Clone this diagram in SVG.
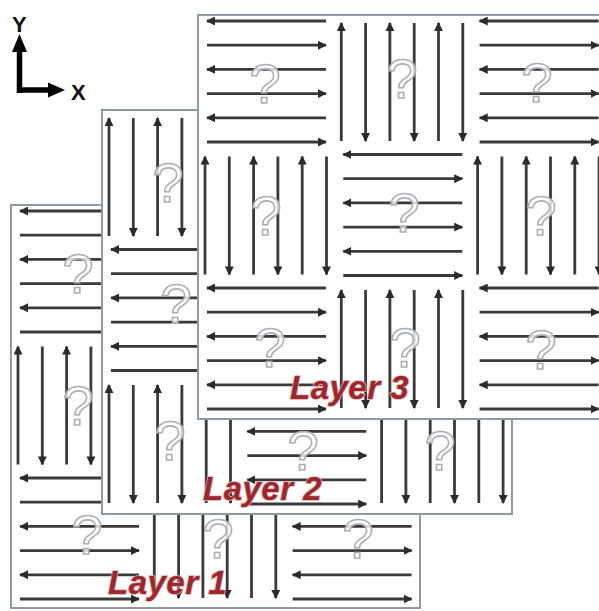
<svg xmlns="http://www.w3.org/2000/svg" xmlns:xlink="http://www.w3.org/1999/xlink" width="599" height="611" viewBox="0 0 599 611">
<style>
.frame{fill:#fff;stroke:#8d9aa8;stroke-width:2}
.ar{stroke:#3a3a3a;stroke-width:2.8;fill:none;marker-end:url(#head)}
.q{font-family:"Liberation Sans",Arial,sans-serif;font-size:56px;fill:#fff;fill-opacity:0.8;stroke:#a9afb5;stroke-width:1.6;text-anchor:middle}
.lbl{font-family:"Liberation Sans",Arial,sans-serif;font-style:italic;font-weight:bold;font-size:33px;letter-spacing:0.5px;fill:#a0262c;stroke:#e6b0b0;stroke-width:1.6;paint-order:stroke}
.axis{stroke:#000;stroke-width:5.5;fill:none}
.axl{font-family:"Liberation Sans",Arial,sans-serif;font-weight:bold;font-size:22px;fill:#111}
</style>
<defs>
<marker id="head" viewBox="0 0 10 10" markerWidth="9" markerHeight="9" refX="9" refY="5" orient="auto" markerUnits="userSpaceOnUse">
<path d="M0,0L10,5L0,10z" fill="#2b2b2b"/>
</marker>
<!-- cell with six horizontal arrows, alternating left / right -->
<g id="hcell">
<path class="ar" d="M128,6H9"/>
<path class="ar" d="M9,30.2H128"/>
<path class="ar" d="M128,54.4H9"/>
<path class="ar" d="M9,78.6H128"/>
<path class="ar" d="M128,102.8H9"/>
<path class="ar" d="M9,127H128"/>
</g>
<!-- cell with six vertical arrows, alternating up / down -->
<g id="vcell">
<path class="ar" d="M7,126V8"/>
<path class="ar" d="M31.3,8V126"/>
<path class="ar" d="M55.6,126V8"/>
<path class="ar" d="M79.9,8V126"/>
<path class="ar" d="M104.2,126V8"/>
<path class="ar" d="M128.5,8V126"/>
</g>
</defs>
<rect width="599" height="611" fill="#fff"/>

<!-- coordinate axes -->
<g id="axes">
<path class="axis" d="M19.5,93V52M16.7,90H50"/>
<path d="M19.5,34L12,52L27,52z" fill="#000"/>
<path d="M65,90L48,82.5L48,97.5z" fill="#000"/>
<text class="axl" x="12" y="32">Y</text>
<text class="axl" x="71" y="100">X</text>
</g>

<!-- bottom layer -->
<g id="layer1" transform="translate(11,205)">
<rect class="frame" width="409" height="403"/>
<use href="#hcell"/>
<use href="#vcell" x="136.3"/>
<use href="#hcell" x="272.6"/>
<use href="#vcell" y="133.5"/>
<use href="#hcell" x="136.3" y="133.5"/>
<use href="#vcell" x="272.6" y="133.5"/>
<use href="#hcell" y="267"/>
<use href="#vcell" x="136.3" y="267"/>
<use href="#hcell" x="272.6" y="267"/>
<text class="q" x="67" y="88">?</text>
<text class="q" x="67" y="220">?</text>
<text class="q" x="76" y="349">?</text>
<text class="q" x="207" y="353">?</text>
<text class="q" x="347" y="353">?</text>
<text class="lbl" x="97" y="389">Layer 1</text>
</g>

<!-- middle layer -->
<g id="layer2" transform="translate(102,110)">
<rect class="frame" width="410" height="404"/>
<use href="#vcell"/>
<use href="#hcell" x="136.3"/>
<use href="#vcell" x="272.6"/>
<use href="#hcell" y="133.5"/>
<use href="#vcell" x="136.3" y="133.5"/>
<use href="#hcell" x="272.6" y="133.5"/>
<use href="#vcell" y="267"/>
<use href="#hcell" x="136.3" y="267"/>
<use href="#vcell" x="272.6" y="267"/>
<text class="q" x="66" y="92">?</text>
<text class="q" x="74" y="213">?</text>
<text class="q" x="68" y="350">?</text>
<text class="q" x="201" y="360">?</text>
<text class="q" x="338" y="360">?</text>
<text class="lbl" x="101" y="390">Layer 2</text>
</g>

<!-- top layer -->
<g id="layer3" transform="translate(198,15)">
<rect class="frame" width="410" height="404"/>
<use href="#hcell"/>
<use href="#vcell" x="136.3"/>
<use href="#hcell" x="272.6"/>
<use href="#vcell" y="133.5"/>
<use href="#hcell" x="136.3" y="133.5"/>
<use href="#vcell" x="272.6" y="133.5"/>
<use href="#hcell" y="267"/>
<use href="#vcell" x="136.3" y="267"/>
<use href="#hcell" x="272.6" y="267"/>
<text class="q" x="67" y="88">?</text>
<text class="q" x="204" y="83">?</text>
<text class="q" x="339" y="87">?</text>
<text class="q" x="68" y="220">?</text>
<text class="q" x="206" y="217">?</text>
<text class="q" x="343" y="220">?</text>
<text class="q" x="72" y="352">?</text>
<text class="q" x="207" y="352">?</text>
<text class="q" x="343" y="354">?</text>
<text class="lbl" x="92" y="384">Layer 3</text>
</g>
</svg>
